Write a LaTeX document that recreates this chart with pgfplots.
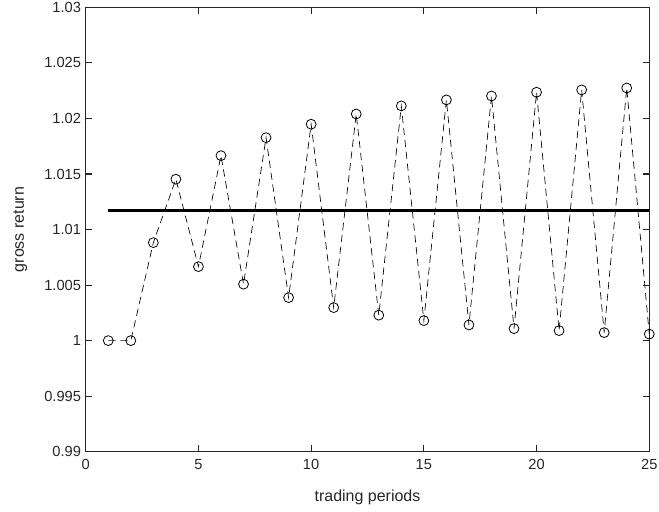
\documentclass[border=0pt]{standalone}
\usepackage{pgfplots}
\pgfplotsset{compat=1.18}
\usepackage{fontspec}
\setmainfont{Liberation Sans}
\definecolor{axgray}{rgb}{0.15,0.15,0.15}
\begin{document}
\begin{tikzpicture}
\path[use as bounding box] (-64.3pt,-45.2pt) rectangle (430pt,338.8pt);
\begin{axis}[
    scale only axis,
    width=422.7pt, height=333.3pt,
    xmin=0, xmax=25,
    ymin=0.99, ymax=1.03,
    xtick={0,5,...,25},
    ytick={0.99,0.995,1,1.005,1.01,1.015,1.02,1.025,1.03},
    scaled y ticks=false,
    yticklabel style={/pgf/number format/fixed, /pgf/number format/precision=3},
    xticklabel style={yshift=-2pt},
    tick align=inside,
    tickwidth=5pt,
    axis line style={axgray, line width=0.6pt},
    tick style={axgray, line width=0.8pt},
    tick label style={font=\fontsize{11}{13}\selectfont, text=axgray, /pgf/number format/assume math mode=true},
    label style={font=\fontsize{12}{14}\selectfont, text=axgray},
    xlabel={trading periods},
    ylabel={gross return},
    xlabel style={at={(axis description cs:0.5,0)}, anchor=center, yshift=-34pt},
    ylabel style={at={(axis description cs:0,0.5)}, anchor=center, yshift=49pt},
    clip=false,
]
\addplot[black, line width=0.5pt, dash pattern=on 5.5pt off 3.5pt,
    mark=o, mark size=3.7pt, mark options={solid, line width=0.6pt}]
coordinates {
(1,1.0000) (2,1.0000) (3,1.00882) (4,1.01453) (5,1.00666)
(6,1.01665) (7,1.00508) (8,1.01827) (9,1.00387) (10,1.01948)
(11,1.00297) (12,1.0204) (13,1.00229) (14,1.02113) (15,1.0018)
(16,1.02167) (17,1.00141) (18,1.02202) (19,1.00108) (20,1.02236)
(21,1.0009) (22,1.02257) (23,1.00072) (24,1.02274) (25,1.00058)
};
\addplot[black, line width=2.4pt] coordinates {(1,1.0117) (25,1.0117)};
\end{axis}
\end{tikzpicture}
\end{document}
